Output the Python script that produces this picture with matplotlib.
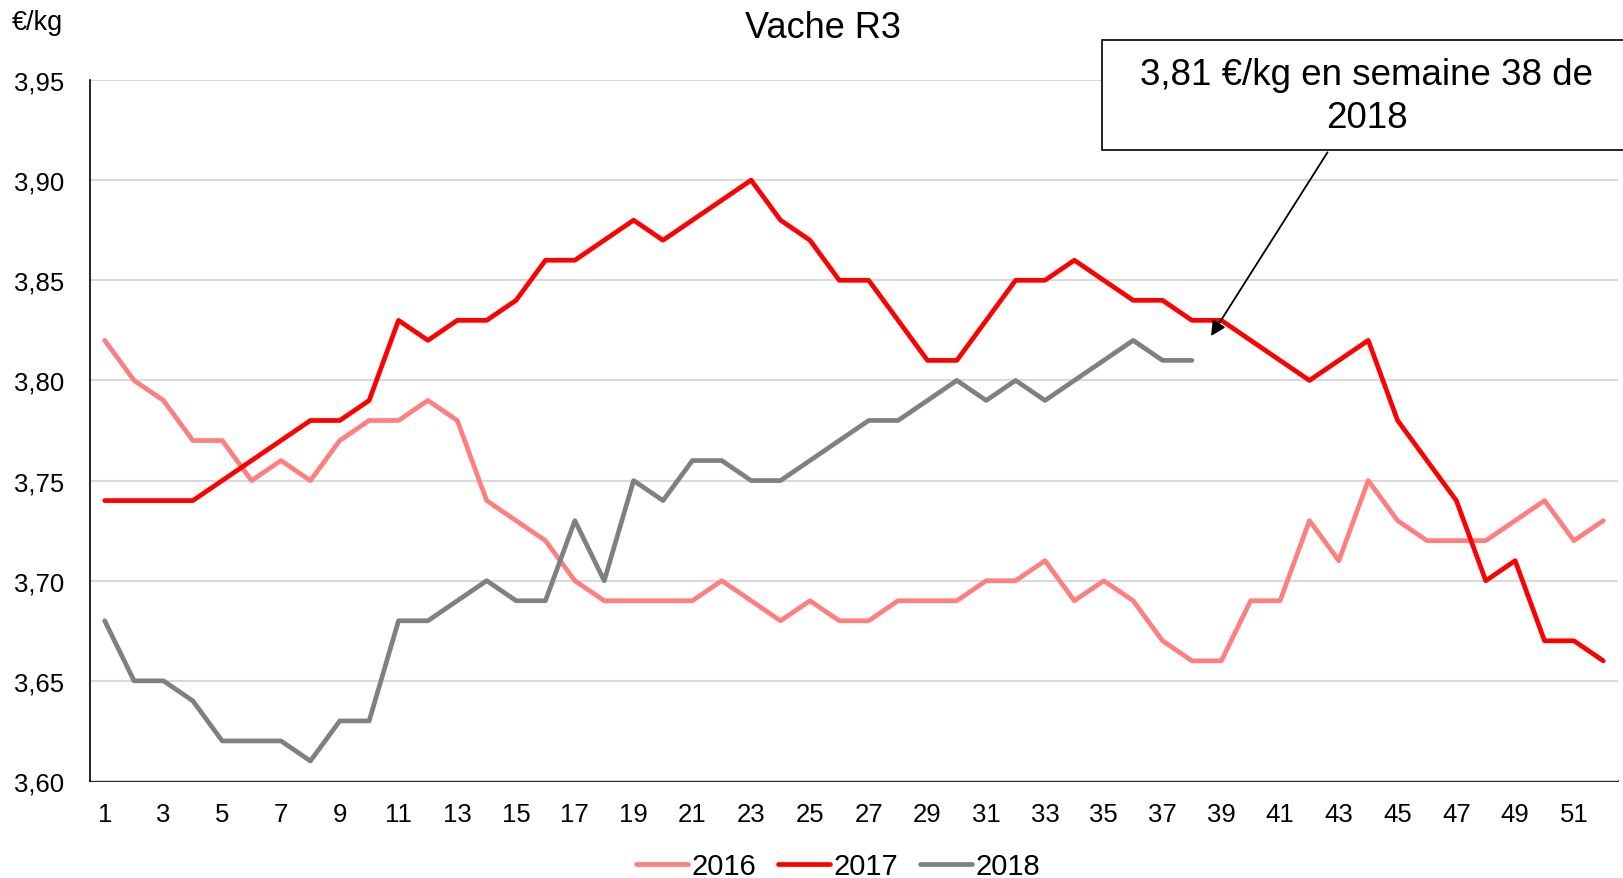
import numpy as np
import matplotlib
matplotlib.use("Agg")
import matplotlib.pyplot as plt
from matplotlib.patches import Rectangle
from matplotlib.ticker import FuncFormatter

weeks = np.arange(1, 53)

v2016 = [3.82, 3.80, 3.79, 3.77, 3.77, 3.75, 3.76, 3.75, 3.77, 3.78,
         3.78, 3.79, 3.78, 3.74, 3.73, 3.72, 3.70, 3.69, 3.69, 3.69,
         3.69, 3.70, 3.69, 3.68, 3.69, 3.68, 3.68, 3.69, 3.69, 3.69,
         3.70, 3.70, 3.71, 3.69, 3.70, 3.69, 3.67, 3.66, 3.66, 3.69,
         3.69, 3.73, 3.71, 3.75, 3.73, 3.72, 3.72, 3.72, 3.73, 3.74,
         3.72, 3.73]
v2017 = [3.74, 3.74, 3.74, 3.74, 3.75, 3.76, 3.77, 3.78, 3.78, 3.79,
         3.83, 3.82, 3.83, 3.83, 3.84, 3.86, 3.86, 3.87, 3.88, 3.87,
         3.88, 3.89, 3.90, 3.88, 3.87, 3.85, 3.85, 3.83, 3.81, 3.81,
         3.83, 3.85, 3.85, 3.86, 3.85, 3.84, 3.84, 3.83, 3.83, 3.82,
         3.81, 3.80, 3.81, 3.82, 3.78, 3.76, 3.74, 3.70, 3.71, 3.67,
         3.67, 3.66]
v2018 = [3.68, 3.65, 3.65, 3.64, 3.62, 3.62, 3.62, 3.61, 3.63, 3.63,
         3.68, 3.68, 3.69, 3.70, 3.69, 3.69, 3.73, 3.70, 3.75, 3.74,
         3.76, 3.76, 3.75, 3.75, 3.76, 3.77, 3.78, 3.78, 3.79, 3.80,
         3.79, 3.80, 3.79, 3.80, 3.81, 3.82, 3.81, 3.81]

W, H = 1624, 879
fig = plt.figure(figsize=(W / 100, H / 100), dpi=100)
plt.rcParams['font.family'] = ['Liberation Sans', 'DejaVu Sans']

# axes placed in pixel terms
left, right, top, bottom = 90, 1618, 81, 782
ax = fig.add_axes([left / W, 1 - bottom / H, (right - left) / W, (bottom - top) / H])

ax.plot(weeks, v2016, color='#FF7F7F', lw=3.4, label='2016', solid_capstyle='round')
ax.plot(weeks, v2017, color='#FF0000', lw=3.4, label='2017', solid_capstyle='round')
ax.plot(weeks[:len(v2018)], v2018, color='#808080', lw=3.4, label='2018', solid_capstyle='round')

ax.set_xlim(0.5, 52.5)
ax.set_ylim(3.60, 3.95)
ax.set_yticks(np.arange(3.60, 3.951, 0.05))
ax.yaxis.set_major_formatter(FuncFormatter(lambda v, p: f"{v:.2f}".replace('.', ',')))
ax.set_xticks(np.arange(1, 53, 2))
ax.tick_params(axis='both', length=0, labelsize=18.5)
ax.tick_params(axis='x', pad=15)
ax.tick_params(axis='y', pad=18.5)
ax.grid(axis='y', color='#D9D9D9', lw=1.5)
ax.set_axisbelow(True)
for s in ['top', 'right']:
    ax.spines[s].set_visible(False)
ax.spines['left'].set_linewidth(1.2)
ax.spines['bottom'].set_linewidth(1.2)
ax.spines['bottom'].set_zorder(0.5)

fig.text(823 / W, 1 - 28 / H, 'Vache R3', ha='center', va='center', fontsize=26)
fig.text(12 / W, 1 - 23 / H, '€/kg', ha='left', va='center', fontsize=19.5)

leg = fig.legend(loc='center', bbox_to_anchor=(838 / W, 1 - 867 / H), ncol=3, frameon=False,
                 fontsize=21, handlelength=1.8, columnspacing=0.75, handletextpad=0.1,
                 borderpad=0, borderaxespad=0)

# annotation box
box = Rectangle((1102 / W, 1 - 151 / H), (W - 1102) / W + 0.01, 110 / H,
                transform=fig.transFigure, fill=True, facecolor='white',
                edgecolor='black', lw=1.2, zorder=5)
fig.patches.append(box)
fig.text(1367 / W, 1 - 97 / H, '3,81 €/kg en semaine 38 de\n2018', ha='center', va='center',
         fontsize=26.5, linespacing=1.32, zorder=6)
ax.annotate('', xy=(38.6, 3.821), xycoords='data',
            xytext=(1329 / W, 1 - 151 / H), textcoords='figure fraction',
            arrowprops=dict(arrowstyle='-|>', color='black', lw=1.3, mutation_scale=22))

fig.savefig('out.png', dpi=100)
